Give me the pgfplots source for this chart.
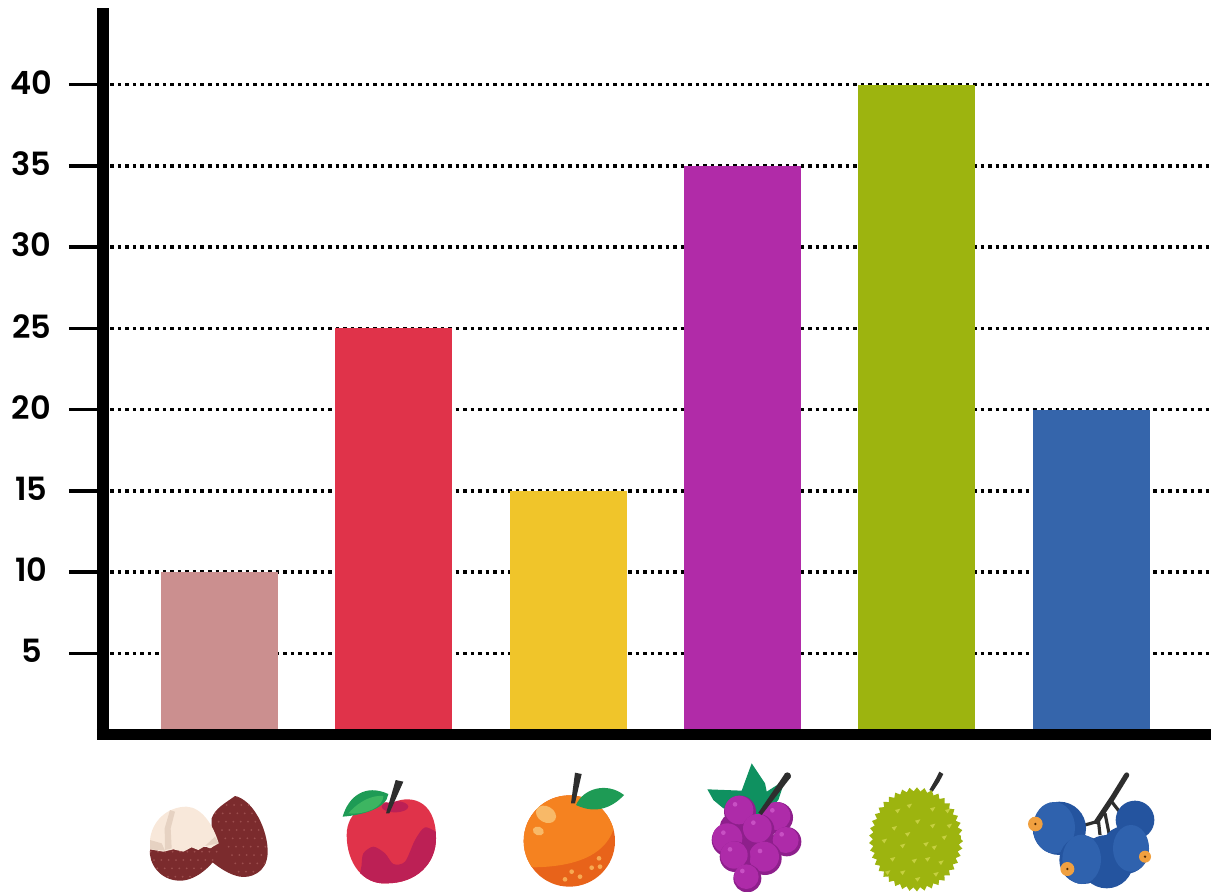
\documentclass[border=0pt]{standalone}
\usepackage{fontspec}
\setmainfont{Poppins}[BoldFont={Poppins SemiBold}]
\usepackage{pgfplots}
\pgfplotsset{compat=1.18}
\usetikzlibrary{decorations.pathmorphing}

\definecolor{cLychee}{HTML}{CB8F8F}
\definecolor{cApple}{HTML}{E0334A}
\definecolor{cOrange}{HTML}{F0C52A}
\definecolor{cGrape}{HTML}{B12BA8}
\definecolor{cDurian}{HTML}{9DB40F}
\definecolor{cBerry}{HTML}{3565AB}
% icon colours
\definecolor{skinDark}{HTML}{7B2B2D}
\definecolor{skinDot}{HTML}{9C4E4E}
\definecolor{flesh}{HTML}{F8E8DA}
\definecolor{fleshShade}{HTML}{E6D2C2}
\definecolor{appleDark}{HTML}{BC2055}
\definecolor{leafDark}{HTML}{1E9B55}
\definecolor{leafLight}{HTML}{3DB561}
\definecolor{stem}{HTML}{2E2E2E}
\definecolor{orLight}{HTML}{F58220}
\definecolor{orDark}{HTML}{E8631A}
\definecolor{orSpot}{HTML}{F8B968}
\definecolor{grapeLeaf}{HTML}{0F9160}
\definecolor{grapeDark}{HTML}{8E1F8C}
\definecolor{grapeMid}{HTML}{AE2BA9}
\definecolor{grapeHi}{HTML}{C850C4}
\definecolor{durSpot}{HTML}{C5D040}
\definecolor{berryDark}{HTML}{24549F}
\definecolor{berryLight}{HTML}{2F62AE}
\definecolor{berrySpot}{HTML}{F0A040}

% icons are drawn in the pixel units of a 3x crop
\tikzset{icon/.style args={#1/#2}{shift={(#1*0.5pt,-#2*0.5pt)},x=0.16667pt,y=-0.16667pt}}

\begin{document}
\begin{tikzpicture}
  \useasboundingbox (0pt,0pt) rectangle (607.5pt,-446pt);

  \begin{axis}[
      at={(51.5pt,-367.25pt)},
      anchor=south west,
      scale only axis,
      width=554pt,
      height=363.25pt,
      xmin=-0.668, xmax=5.688,
      ymin=0, ymax=44.72,
      axis x line=bottom,
      axis y line=left,
      x axis line style={-,line width=5.5pt,shorten <=-3pt},
      y axis line style={-,line width=6pt},
      xtick=\empty,
      ytick={5,10,...,40},
      tick align=outside,
      major tick length=17pt,
      ytick style={black,line width=1.75pt},
      ymajorgrids,
      grid style={black,line width=1.75pt,dash pattern=on 1.75pt off 2pt},
      tick label style={font=\bfseries\fontsize{16}{16}\selectfont},
      /pgf/number format/assume math mode=true,
      yticklabel style={anchor=center,xshift=-18.75pt,yshift=1pt},
      clip=false,
      ybar,
      bar shift=0pt,
      bar width=58.5pt,
    ]
    \addplot[fill=cLychee,draw=none] coordinates {(0,10)};
    \addplot[fill=cApple,draw=none] coordinates {(1,25)};
    \addplot[fill=cOrange,draw=none] coordinates {(2,15)};
    \addplot[fill=cGrape,draw=none] coordinates {(3,35)};
    \addplot[fill=cDurian,draw=none] coordinates {(4,40)};
    \addplot[fill=cBerry,draw=none] coordinates {(5,20)};
    % bars would cover the top half of the base line
    \draw[line width=5.5pt,shorten <=-3pt] (rel axis cs:0,0) -- (rel axis cs:1,0);
  \end{axis}

  % lychee and apple
  \begin{scope}[icon=130/750]
    \begin{scope}
      \clip (315,138) .. controls (370,150) and (415,240) .. (413,310) .. controls (410,370) and (360,385) .. (330,380) .. controls (300,375) and (270,355) .. (245,335) -- (245,205) .. controls (255,175) and (285,160) .. cycle;
      \fill[skinDark] (230,130) rectangle (420,390);
      \foreach \a in {240,262,...,420}
        \foreach \b in {140,165,...,390}
          \fill[skinDot] (\a+\b*0.4-60,\b) circle (3);
    \end{scope}
    \begin{scope}
      \clip (60,298) .. controls (55,340) and (90,392) .. (150,392) .. controls (200,392) and (250,345) .. (275,298) -- (150,280) -- cycle;
      \fill[skinDark] (50,270) rectangle (280,400);
      \foreach \a in {40,62,...,280}
        \foreach \b in {305,330,...,400}
          \fill[skinDot] (\a+\b*0.4-100,\b) circle (3);
    \end{scope}
    \fill[flesh] (60,270) .. controls (65,215) and (110,170) .. (170,170) .. controls (215,172) and (250,225) .. (266,280) -- (240,295) -- (225,288) -- (205,300) -- (185,292) -- (160,305) -- (130,298) -- (100,305) -- (60,298) -- cycle;
    \fill[fleshShade] (120,180) -- (135,185) -- (122,235) -- (125,295) -- (105,300) -- (104,235) -- cycle;
    \fill[fleshShade] (60,270) -- (95,280) -- (105,302) -- (60,298) -- cycle;
    \fill[fleshShade] (225,288) -- (266,280) -- (255,260) -- cycle;
    % apple
    \begin{scope}
      \clip (785,160) .. controls (830,135) and (918,140) .. (918,265) .. controls (918,340) and (860,400) .. (770,400) .. controls (700,405) and (650,340) .. (650,255) .. controls (650,180) and (720,145) .. cycle;
      \fill[cApple] (630,120) rectangle (940,420);
      \fill[appleDark] plot[smooth] coordinates {(695,345) (700,310) (730,290) (765,310) (790,342) (825,335) (855,270) (885,232) (925,250)} -- (940,420) -- (680,420) -- cycle;
      \fill[appleDark] (795,170) ellipse (40 and 17);
    \end{scope}
    \fill[leafDark] (638,200) .. controls (655,140) and (705,100) .. (775,132) .. controls (770,175) and (700,195) .. cycle;
    \fill[leafLight] (655,190) .. controls (690,150) and (730,135) .. (760,138) .. controls (760,170) and (710,195) .. cycle;
    \fill[stem] (768,190) -- (778,190) -- (820,95) -- (797,90) -- cycle;
  \end{scope}

  % orange and grapes
  \begin{scope}[icon=500/750]
    \fill[orDark] (208,273) circle (137);
    \begin{scope}
      \clip (208,273) circle (137);
      \fill[orLight] (50,120) -- (360,120) -- (340,240) .. controls (310,320) and (220,350) .. (100,352) -- (50,340) -- cycle;
    \end{scope}
    \foreach \a/\b in {215/365,195/388,240/380,275/353,300/350,297/325}
      \fill[orSpot!70!orLight] (\a,\b) circle (7);
    \fill[orSpot,rotate around={-30:(138,193)}] (138,193) ellipse (32 and 24);
    \fill[orSpot,rotate around={-20:(115,243)}] (115,243) ellipse (17 and 13);
    \fill[leafDark] (228,165) .. controls (250,115) and (320,95) .. (372,135) .. controls (340,170) and (290,195) .. cycle;
    \fill[stem] (213,160) -- (225,160) -- (245,72) -- (225,68) -- cycle;
    % grapes
    \fill[grapeLeaf] (622,118) -- (725,122) -- (755,40) -- (795,100) -- (800,125) -- (855,90) -- (835,150) -- (790,200) -- (670,175) -- (640,150) -- cycle;
    \fill[grapeDark] (700,230) circle (40) (780,300) circle (60);
    \foreach \a/\b/\r in {832/203/47,720/185/48,860/275/44,685/270/50,775/240/48,795/325/50,705/320/46,742/385/42} {
      \fill[grapeDark] (\a,\b) circle (\r);
      \fill[grapeMid] (\a-3,\b-5) circle (\r-5);
      \fill[grapeHi] (\a-15,\b-22) circle (7);
    }
    \fill[stem] (775,188) -- (852,75) -- (872,82) -- (785,195) -- cycle;
    \fill[stem] (862,78) circle (11);
  \end{scope}

  % durian and blue berries
  \begin{scope}[icon=850/750]
    \fill[stem] (238,120) -- (258,85) -- (268,65) -- (280,72) -- (268,95) -- (248,125) -- cycle;
    \fill[cDurian,decorate,decoration={zigzag,segment length=3.6pt,amplitude=1pt}] (198,268) ellipse (135 and 150);
    \foreach \a/\b in {170/165,240/175,285/180,135/180,195/212,240/225,125/232,165/250,220/280,275/260,95/270,150/285,245/290,120/325,185/330,225/325,265/335,105/365,150/365,195/385,250/370,290/225}
      \fill[durSpot] (\a,\b) -- ++(16,-4) -- ++(-8,14) -- cycle;
    \draw[stem,line width=2.6pt,line cap=round] (830,75) -- (790,140) -- (740,215);
    \draw[stem,line width=1.6pt] (740,215) -- (705,225) (745,210) -- (750,255) (765,190) -- (778,255) (785,155) -- (820,200);
    \fill[berryDark] (855,210) circle (58);
    \fill[berryDark] (628,235) circle (80);
    \fill[berryLight] (612,233) ellipse (63 and 77);
    \fill[berryDark] (770,335) circle (80);
    \fill[berryDark] (700,330) circle (72);
    \fill[berryLight] (695,328) ellipse (58 and 74);
    \fill[berryDark] (825,300) circle (72);
    \fill[berryLight] (843,295) ellipse (54 and 70);
    \foreach \a/\b/\r in {556/222/22,652/357/21,885/320/18} {
      \fill[berrySpot] (\a,\b) circle (\r);
      \fill[black!70!orange] (\a,\b) circle (4);
    }
  \end{scope}
\end{tikzpicture}
\end{document}
